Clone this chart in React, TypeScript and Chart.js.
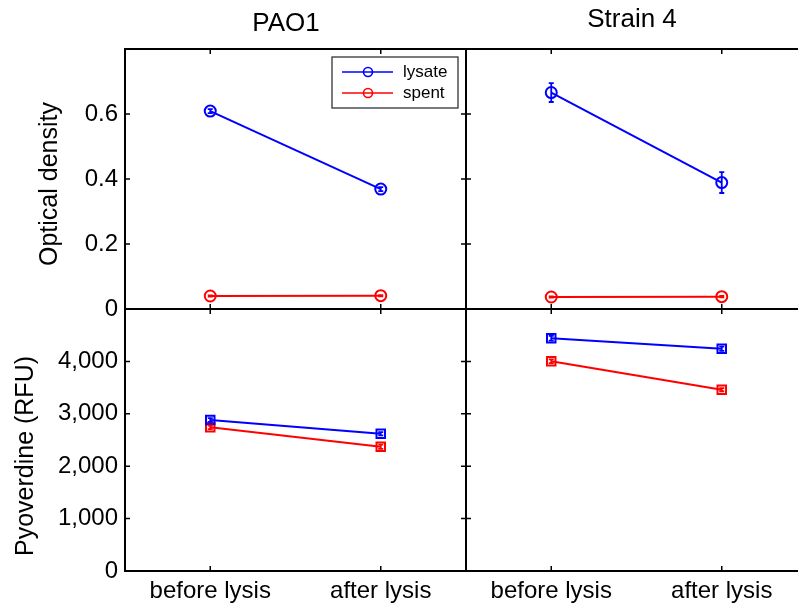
import React, { useEffect, useRef } from 'react';
import { Chart, registerables } from 'chart.js';

Chart.register(...registerables);

// ---------------- data ----------------
const categories = ['before lysis', 'after lysis'];
const seriesNames = ['lysate', 'spent'];
const panelTitles = ['PAO1', 'Strain 4'];
const yTitles = ['Optical density', 'Pyoverdine (RFU)'];

const odTicks = [0, 0.2, 0.4, 0.6, 0.8];
const pyoTicks = [0, 1000, 2000, 3000, 4000, 5000];

const pao1OdLysate = [0.609, 0.369];
const pao1OdLysateErr = [0.006, 0.006];
const pao1OdSpent = [0.04, 0.041];
const pao1OdSpentErr = [0.002, 0.002];

const strain4OdLysate = [0.666, 0.389];
const strain4OdLysateErr = [0.029, 0.032];
const strain4OdSpent = [0.037, 0.038];
const strain4OdSpentErr = [0.002, 0.002];

const pao1PyoLysate = [2882, 2620];
const pao1PyoLysateErr = [35, 30];
const pao1PyoSpent = [2742, 2372];
const pao1PyoSpentErr = [35, 40];

const strain4PyoLysate = [4441, 4242];
const strain4PyoLysateErr = [45, 40];
const strain4PyoSpent = [4002, 3460];
const strain4PyoSpentErr = [35, 30];

// ---------------- styles ----------------
const CANVAS_W = 820;
const CANVAS_H = 608;
const FONT = '"Liberation Sans", Arial, Helvetica, sans-serif';
const BLUE = '#0000ff';
const RED = '#ff0000';

type Panel = {
  lysate: number[];
  lysateErr: number[];
  spent: number[];
  spentErr: number[];
  ticks: number[];
  fmt: (v: number) => string;
  marker: 'circle' | 'rect';
  radius: number;
  showY: boolean;
  showX: boolean;
  area: { left: number; top: number; right: number; bottom: number };
  title?: { text: string; x: number; y: number };
  yTitle?: { text: string; x: number; y: number };
  legend?: boolean;
};

const fmtOd = (v: number) => (Math.abs(v - 0.8) < 1e-9 ? '' : String(Math.round(v * 10) / 10));
const fmtPyo = (v: number) => (v >= 5000 ? '' : v.toLocaleString('en-US'));

const panels: Panel[] = [
  {
    lysate: pao1OdLysate, lysateErr: pao1OdLysateErr, spent: pao1OdSpent, spentErr: pao1OdSpentErr,
    ticks: odTicks, fmt: fmtOd, marker: 'circle', radius: 5.5, showY: true, showX: false,
    area: { left: 125, top: 49, right: 466, bottom: 309 },
    title: { text: panelTitles[0], x: 286, y: 24 },
    yTitle: { text: yTitles[0], x: 50, y: 184 },
    legend: true,
  },
  {
    lysate: strain4OdLysate, lysateErr: strain4OdLysateErr, spent: strain4OdSpent, spentErr: strain4OdSpentErr,
    ticks: odTicks, fmt: fmtOd, marker: 'circle', radius: 5.5, showY: false, showX: false,
    area: { left: 466, top: 49, right: 807, bottom: 309 },
    title: { text: panelTitles[1], x: 632, y: 20 },
  },
  {
    lysate: pao1PyoLysate, lysateErr: pao1PyoLysateErr, spent: pao1PyoSpent, spentErr: pao1PyoSpentErr,
    ticks: pyoTicks, fmt: fmtPyo, marker: 'rect', radius: 6, showY: true, showX: true,
    area: { left: 125, top: 309, right: 466, bottom: 571 },
    yTitle: { text: yTitles[1], x: 26, y: 456 },
  },
  {
    lysate: strain4PyoLysate, lysateErr: strain4PyoLysateErr, spent: strain4PyoSpent, spentErr: strain4PyoSpentErr,
    ticks: pyoTicks, fmt: fmtPyo, marker: 'rect', radius: 6, showY: false, showX: true,
    area: { left: 466, top: 309, right: 807, bottom: 571 },
  },
];

// ---------------- plugins ----------------
const errorBarPlugin = {
  id: 'errorBars',
  afterDatasetsDraw(chart: any) {
    const { ctx } = chart;
    const yScale = chart.scales.y;
    chart.data.datasets.forEach((ds: any, di: number) => {
      const meta = chart.getDatasetMeta(di);
      const errs: number[] = ds.errors || [];
      ctx.save();
      ctx.strokeStyle = ds.borderColor;
      ctx.lineWidth = 1.8;
      meta.data.forEach((pt: any, i: number) => {
        const v = ds.data[i];
        const e = errs[i] || 0;
        const y1 = yScale.getPixelForValue(v + e);
        const y2 = yScale.getPixelForValue(v - e);
        const x = pt.x;
        ctx.beginPath();
        ctx.moveTo(x, y1);
        ctx.lineTo(x, y2);
        ctx.moveTo(x - 2.5, y1);
        ctx.lineTo(x + 2.5, y1);
        ctx.moveTo(x - 2.5, y2);
        ctx.lineTo(x + 2.5, y2);
        ctx.stroke();
      });
      ctx.restore();
    });
  },
};

const framePlugin = {
  id: 'frame',
  afterDraw(chart: any, _args: any, opts: any) {
    const { ctx, chartArea: a } = chart;
    const xs = chart.scales.x;
    const ys = chart.scales.y;
    const panel: Panel = opts.panel;
    ctx.save();
    ctx.strokeStyle = '#000';
    // inner tick marks
    ctx.lineWidth = 1.5;
    const tl = 5;
    ctx.beginPath();
    panel.ticks.forEach((v) => {
      const py = ys.getPixelForValue(v);
      ctx.moveTo(a.left, py);
      ctx.lineTo(a.left + tl, py);
      ctx.moveTo(a.right, py);
      ctx.lineTo(a.right - tl, py);
    });
    categories.forEach((_c, i) => {
      const px = xs.getPixelForValue(i);
      ctx.moveTo(px, a.top);
      ctx.lineTo(px, a.top + tl);
      ctx.moveTo(px, a.bottom);
      ctx.lineTo(px, a.bottom - tl);
    });
    ctx.stroke();
    // box
    ctx.lineWidth = 2;
    ctx.strokeRect(a.left, a.top, a.right - a.left, a.bottom - a.top);

    // titles
    ctx.fillStyle = '#000';
    if (panel.title) {
      ctx.font = `26px ${FONT}`;
      ctx.textAlign = 'center';
      ctx.textBaseline = 'middle';
      ctx.fillText(panel.title.text, panel.title.x, panel.title.y);
    }
    if (panel.yTitle) {
      ctx.save();
      ctx.font = `25px ${FONT}`;
      ctx.textAlign = 'center';
      ctx.textBaseline = 'middle';
      ctx.translate(panel.yTitle.x, panel.yTitle.y);
      ctx.rotate(-Math.PI / 2);
      ctx.fillText(panel.yTitle.text, 0, 0);
      ctx.restore();
    }

    // legend
    if (panel.legend) {
      const bw = 126;
      const bh = 51;
      const bx = a.right - 8 - bw;
      const by = a.top + 8;
      ctx.fillStyle = '#fff';
      ctx.fillRect(bx, by, bw, bh);
      ctx.strokeStyle = '#222';
      ctx.lineWidth = 1.2;
      ctx.strokeRect(bx, by, bw, bh);
      chart.data.datasets.forEach((ds: any, i: number) => {
        const ry = by + 15 + i * 21;
        ctx.strokeStyle = ds.borderColor;
        ctx.lineWidth = 1.6;
        ctx.beginPath();
        ctx.moveTo(bx + 10, ry);
        ctx.lineTo(bx + 61, ry);
        ctx.stroke();
        ctx.beginPath();
        ctx.arc(bx + 36, ry, 4.5, 0, Math.PI * 2);
        ctx.stroke();
        ctx.fillStyle = '#000';
        ctx.font = `17px ${FONT}`;
        ctx.textAlign = 'left';
        ctx.textBaseline = 'middle';
        ctx.fillText(ds.label, bx + 71, ry);
      });
    }
    ctx.restore();
  },
};

function makeConfig(p: Panel): any {
  const yMax = p.ticks[p.ticks.length - 1];
  const ds = (label: string, data: number[], errors: number[], color: string) => ({
    type: 'line',
    label,
    data,
    errors,
    borderColor: color,
    backgroundColor: 'rgba(0,0,0,0)',
    borderWidth: 2,
    pointStyle: p.marker,
    pointRadius: p.radius,
    pointHoverRadius: p.radius,
    pointBorderWidth: 2,
    pointBorderColor: color,
    pointBackgroundColor: 'rgba(0,0,0,0)',
    tension: 0,
    clip: false,
  });
  return {
    type: 'line',
    data: {
      labels: categories,
      datasets: [
        ds(seriesNames[0], p.lysate, p.lysateErr, BLUE),
        ds(seriesNames[1], p.spent, p.spentErr, RED),
      ],
    },
    options: {
      animation: false,
      responsive: false,
      devicePixelRatio: 1,
      events: [],
      layout: {
        padding: {
          left: p.showY ? 0 : p.area.left,
          right: CANVAS_W - p.area.right,
          top: p.area.top,
          bottom: p.showX ? 0 : CANVAS_H - p.area.bottom,
        },
      },
      plugins: {
        legend: { display: false },
        tooltip: { enabled: false },
        title: { display: false },
        frame: { panel: p },
      },
      scales: {
        x: {
          type: 'category',
          display: p.showX,
          offset: true,
          grid: { display: false, drawTicks: false },
          border: { display: false },
          ticks: {
            color: '#000',
            font: { family: FONT, size: 24 },
            padding: 6,
            maxRotation: 0,
            autoSkip: false,
          },
          afterFit: (s: any) => {
            s.height = p.showX ? CANVAS_H - p.area.bottom : 0;
          },
        },
        y: {
          type: 'linear',
          display: p.showY,
          min: 0,
          max: yMax,
          grid: { display: false, drawTicks: false },
          border: { display: false },
          afterBuildTicks: (s: any) => {
            s.ticks = p.ticks.map((v) => ({ value: v }));
          },
          ticks: {
            color: '#000',
            font: { family: FONT, size: 24 },
            padding: 7,
            callback: (v: any) => p.fmt(Number(v)),
          },
          afterFit: (s: any) => {
            s.width = p.showY ? p.area.left : 0;
          },
        },
      },
    },
    plugins: [errorBarPlugin, framePlugin],
  };
}

export default function App() {
  const refs = [useRef<HTMLCanvasElement>(null), useRef<HTMLCanvasElement>(null), useRef<HTMLCanvasElement>(null), useRef<HTMLCanvasElement>(null)];
  useEffect(() => {
    const charts = panels.map((p, i) => new Chart(refs[i].current as HTMLCanvasElement, makeConfig(p)));
    return () => charts.forEach((c) => c.destroy());
  }, []);
  return (
    <div style={{ position: 'absolute', left: 0, top: 0, width: 798, height: 608, overflow: 'hidden', background: '#fff' }}>
      {panels.map((_p, i) => (
        <canvas
          key={i}
          ref={refs[i]}
          width={CANVAS_W}
          height={CANVAS_H}
          style={{ position: 'absolute', left: 0, top: 0, width: CANVAS_W, height: CANVAS_H }}
        />
      ))}
    </div>
  );
}
